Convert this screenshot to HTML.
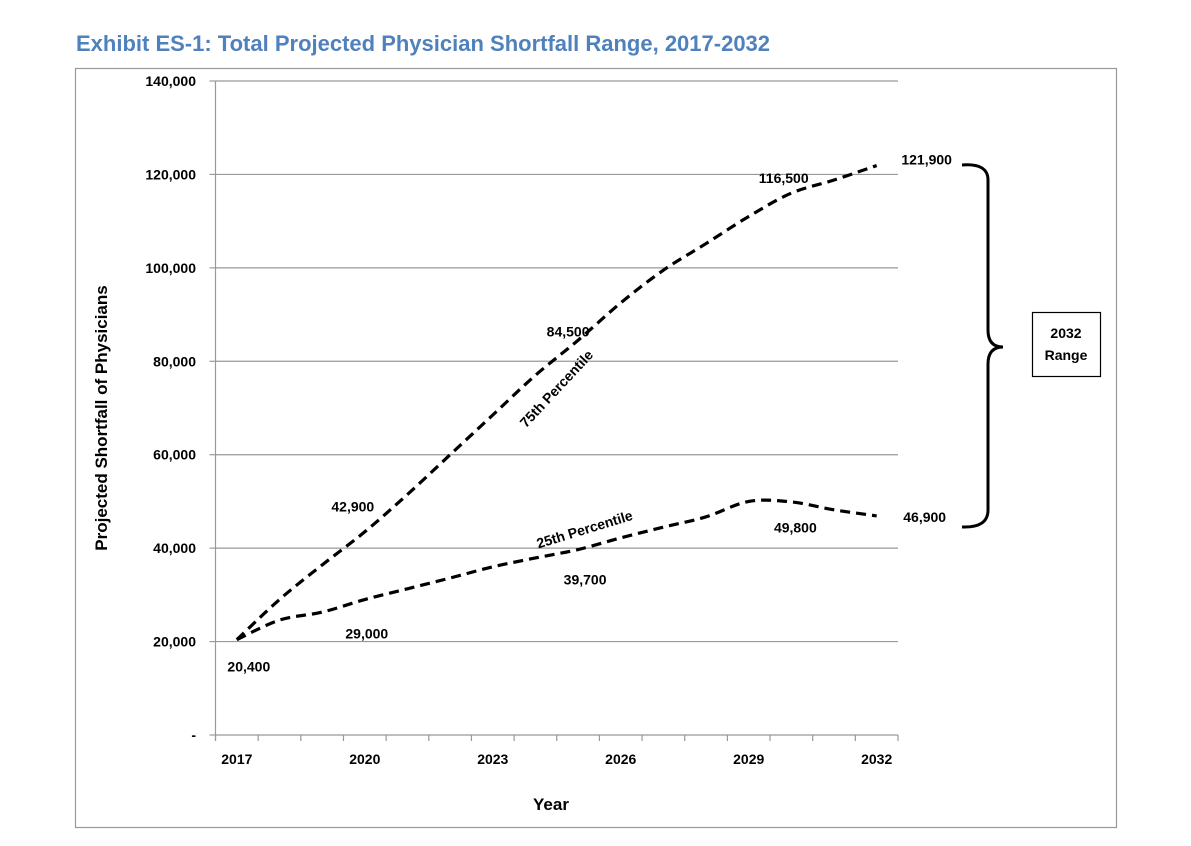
<!DOCTYPE html>
<html><head><meta charset="utf-8"><style>
html,body{margin:0;padding:0;background:#fff;}
svg{display:block;font-family:"Liberation Sans",Calibri,sans-serif;}
</style></head><body>
<svg id="chart" width="1191" height="846" viewBox="0 0 1191 846">
<text x="76" y="51" font-size="22" font-weight="bold" fill="#4F81BD">Exhibit ES-1: Total Projected Physician Shortfall Range, 2017-2032</text>
<rect x="75.5" y="68.5" width="1041" height="759" fill="none" stroke="#999" stroke-width="1.2"/>
<g id="grid"></g><g id="axes"></g><g id="series"></g><g id="labels"></g>
<text transform="translate(107,418) rotate(-90)" text-anchor="middle" font-size="17" font-weight="bold">Projected Shortfall of Physicians</text>
<text x="551" y="810" text-anchor="middle" font-size="17" font-weight="bold">Year</text>
<text transform="translate(560,392) rotate(-47)" text-anchor="middle" font-size="14" font-weight="bold">75th Percentile</text>
<text transform="translate(586,534) rotate(-17)" text-anchor="middle" font-size="14" font-weight="bold">25th Percentile</text>
<path d="M962,165 Q988,163 988,180 L988,330 Q988,347 1003,347 Q988,347 988,364 L988,510 Q988,528 962,527" fill="none" stroke="#000" stroke-width="3"/>
<rect x="1032.5" y="312.5" width="68" height="64" fill="#fff" stroke="#000" stroke-width="1.2"/>
<text x="1066" y="338" text-anchor="middle" font-size="14" font-weight="bold">2032</text>
<text x="1066" y="360" text-anchor="middle" font-size="14" font-weight="bold">Range</text>
</svg>
<script>
const years=[2017,2018,2019,2020,2021,2022,2023,2024,2025,2026,2027,2028,2029,2030,2031,2032];
const p75=[20400,29000,36400,43500,51500,60000,68500,77000,84500,92500,99500,105200,111000,116000,118800,121900];
const p25=[20400,24600,26300,29000,31300,33600,36000,37900,39700,42200,44500,46700,50000,49900,48200,46900];
const yTicks=[0,20000,40000,60000,80000,100000,120000,140000];
const yTickLabels=["-","20,000","40,000","60,000","80,000","100,000","120,000","140,000"];
const xTickYears=[2017,2020,2023,2026,2029,2032];
const valueLabels=[
 {t:"20,400",yr:2017,v:20400,dx:12,dy:32},
 {t:"29,000",yr:2020,v:29000,dx:2,dy:39},
 {t:"42,900",yr:2020,v:42900,dx:-12,dy:-23},
 {t:"39,700",yr:2025,v:39700,dx:7,dy:35},
 {t:"84,500",yr:2025,v:84500,dx:-10,dy:-4},
 {t:"116,500",yr:2029,v:116500,dx:35,dy:-8},
 {t:"49,800",yr:2030,v:49800,dx:4,dy:30},
 {t:"46,900",yr:2032,v:46900,dx:48,dy:6},
 {t:"121,900",yr:2032,v:121900,dx:50,dy:-1}
];
const NS="http://www.w3.org/2000/svg";
const X0=215.5,X1=898,Y0=735,Y1=81,YMAX=140000;
const step=(X1-X0)/years.length;
function xs(yr){return X0+step*(years.indexOf(yr)+0.5);}
function ys(v){return Y0-(Y0-Y1)*v/YMAX;}
function mk(tag,at,parent){const e=document.createElementNS(NS,tag);for(const k in at)e.setAttribute(k,at[k]);document.getElementById(parent).appendChild(e);return e;}
yTicks.forEach((v,i)=>{
 const y=ys(v);
 if(v>0){const l=mk('line',{x1:X0,x2:X1,y1:y,y2:y,stroke:'#999','stroke-width':1.2},'grid');
 
 }
 const tk=mk('line',{x1:X0-6,x2:X0,y1:y,y2:y,stroke:'#999','stroke-width':1.2},'axes');
 
 
 const t=mk('text',{x:196,y:y+5,'text-anchor':'end','font-size':14,'font-weight':'bold'},'axes');
 t.textContent=yTickLabels[i];
 
 
});
const ax=mk('line',{x1:X0,x2:X0,y1:Y1,y2:Y0+6,stroke:'#999','stroke-width':1.2},'axes');


const bx=mk('line',{x1:X0,x2:X1,y1:Y0,y2:Y0,stroke:'#999','stroke-width':1.2},'axes');


for(let i=0;i<=years.length;i++){const x=X0+step*i;
 const tk=mk('line',{x1:x,x2:x,y1:Y0,y2:Y0+6,stroke:'#999','stroke-width':1.2},'axes');
 
 }
xTickYears.forEach(yr=>{
 const t=mk('text',{x:xs(yr),y:764,'text-anchor':'middle','font-size':14,'font-weight':'bold'},'axes');
 t.textContent=yr;
 
 
});
function smooth(vals){
 const p=vals.map((v,i)=>[xs(years[i]),ys(v)]);
 let d=`M${p[0][0]},${p[0][1]}`;
 for(let i=0;i<p.length-1;i++){
  const a=p[i-1]||p[i],b=p[i],c=p[i+1],e=p[i+2]||c;
  d+=` C${b[0]+(c[0]-a[0])/6},${b[1]+(c[1]-a[1])/6} ${c[0]-(e[0]-b[0])/6},${c[1]-(e[1]-b[1])/6} ${c[0]},${c[1]}`;
 }
 return d;
}
const l75=mk('path',{d:smooth(p75),fill:'none',stroke:'#000','stroke-width':3.2,'stroke-dasharray':'10,6'},'series');


const l25=mk('path',{d:smooth(p25),fill:'none',stroke:'#000','stroke-width':3.2,'stroke-dasharray':'10,6'},'series');


valueLabels.forEach(o=>{
 const t=mk('text',{x:xs(o.yr)+o.dx,y:ys(o.v)+o.dy,'text-anchor':'middle','font-size':14,'font-weight':'bold'},'labels');
 t.textContent=o.t;
 
 
});
</script>
</body></html>
